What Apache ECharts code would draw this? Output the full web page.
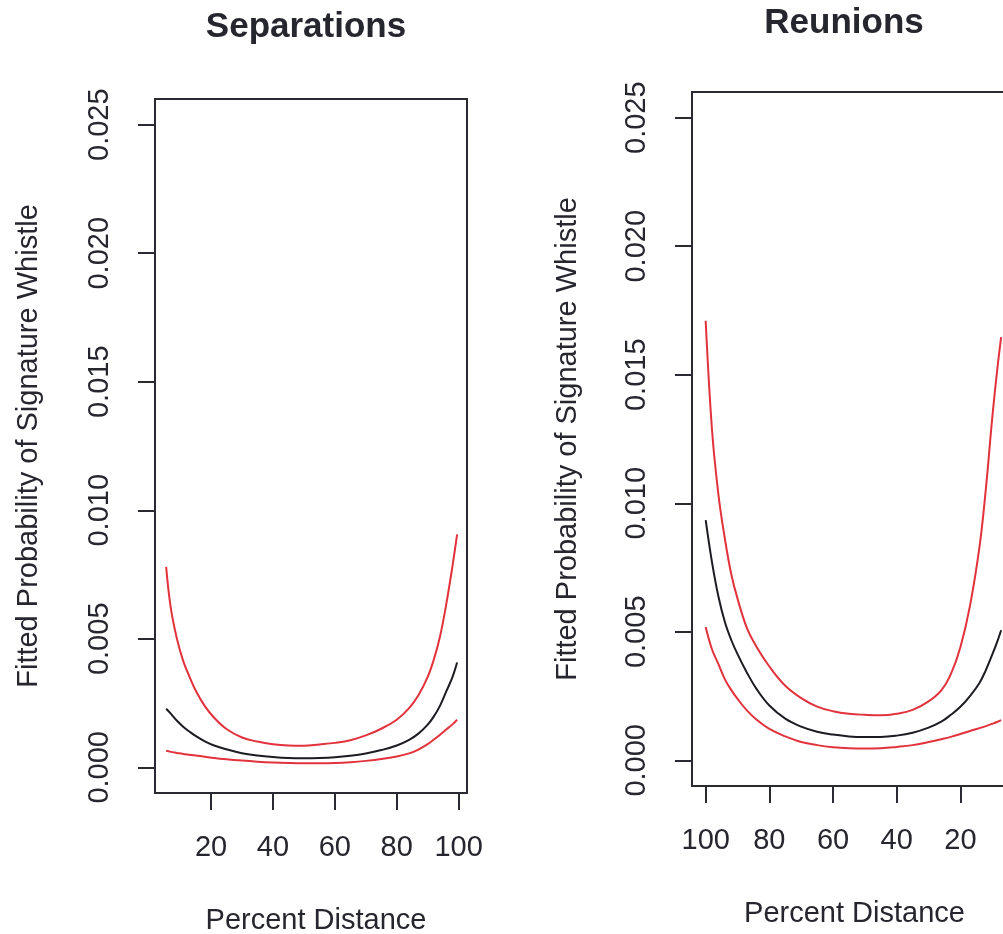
<!DOCTYPE html>
<html><head><meta charset="utf-8">
<script src="https://cdn.jsdelivr.net/npm/echarts@6/dist/echarts.min.js"></script>
<style>html,body{margin:0;padding:0;background:#fff}#c{width:1003px;height:934px}</style>
</head><body><div id="c"></div>
<script>
// ---- Separations panel (percent distance, fitted probability and red confidence bounds)
const sepX     = [5.5, 7, 9, 11, 13, 15, 18, 21, 25, 30, 35, 40, 45, 50, 55, 60, 65, 70, 75, 80, 84, 87, 90, 92, 94, 96, 98, 99.5];
const sepFit   = [0.00228, 0.00209, 0.00181, 0.00158, 0.00139, 0.00122, 0.00101, 0.00085, 0.00070, 0.00055, 0.00046, 0.00040, 0.00036, 0.00035, 0.00036, 0.00039, 0.00045, 0.00054, 0.00067, 0.00085, 0.00107, 0.00131, 0.00166, 0.00198, 0.00240, 0.00295, 0.00351, 0.00408];
const sepUpper = [0.0078, 0.0062, 0.00499, 0.00414, 0.00354, 0.00300, 0.00238, 0.00193, 0.00149, 0.00116, 0.00100, 0.00090, 0.00085, 0.00084, 0.00089, 0.00095, 0.00105, 0.00124, 0.00150, 0.00185, 0.00230, 0.00280, 0.00352, 0.00420, 0.00510, 0.00635, 0.00782, 0.00906];
const sepLower = [0.00064, 0.00060, 0.00056, 0.00052, 0.00049, 0.00046, 0.00041, 0.00036, 0.00031, 0.00026, 0.00022, 0.00019, 0.00017, 0.00016, 0.00016, 0.00017, 0.00020, 0.00025, 0.00032, 0.00042, 0.00054, 0.00069, 0.00090, 0.00108, 0.00127, 0.00147, 0.00167, 0.00185];

// ---- Reunions panel (x axis reversed)
const reuX     = [100, 98, 96, 94, 92, 90, 87, 84, 80, 75, 70, 65, 60, 55, 50, 45, 40, 35, 30, 26, 23, 20, 17, 14, 12, 10, 8.5, 7.2];
const reuFit   = [0.00934, 0.00769, 0.00637, 0.00539, 0.00469, 0.00413, 0.00340, 0.00277, 0.00213, 0.00162, 0.00131, 0.00111, 0.00100, 0.00093, 0.00091, 0.00091, 0.00096, 0.00107, 0.00127, 0.00150, 0.00177, 0.00208, 0.00250, 0.00301, 0.00351, 0.00411, 0.00459, 0.00506];
const reuUpper = [0.0171, 0.01283, 0.01034, 0.00864, 0.00726, 0.00629, 0.00513, 0.00441, 0.00365, 0.00290, 0.00242, 0.00209, 0.00191, 0.00181, 0.00177, 0.00175, 0.00181, 0.00196, 0.00229, 0.00272, 0.00335, 0.00440, 0.00600, 0.00830, 0.01056, 0.01331, 0.01511, 0.01646];
const reuLower = [0.00519, 0.00431, 0.00374, 0.00316, 0.00274, 0.00239, 0.00193, 0.00158, 0.00122, 0.00093, 0.00071, 0.00059, 0.00051, 0.00047, 0.00046, 0.00047, 0.00052, 0.00059, 0.00071, 0.00082, 0.00091, 0.00102, 0.00114, 0.00125, 0.00133, 0.00142, 0.00149, 0.00156];

// ---- tick labels
const yTicks     = [0, 0.005, 0.010, 0.015, 0.020, 0.025];
const sepXTicks  = [20, 40, 60, 80, 100];
const reuXTicks  = [100, 80, 60, 40, 20];

const titles = ['Separations', 'Reunions'];
const xName = 'Percent Distance';
const yName = 'Fitted Probability of Signature Whistle';

const FONT = "'Liberation Sans', Arial, Helvetica, sans-serif";
const TXT = '#26262e';
const AX = '#2a2a32';
const RED = '#e2323c';
const BLACK = '#1c1c22';

function pairs(xs, ys) { return xs.map((x, i) => [x, ys[i]]); }
const textStyle = { fontFamily: FONT, fontSize: 29, color: TXT };

function xAxisCfg(gi, min, max, ticks, inverse, padLeft) {
  return {
    gridIndex: gi, type: 'value', min: min, max: max, inverse: inverse,
    axisLine: { show: false, onZero: false },
    splitLine: { show: false },
    axisTick: { show: true, length: 17, lineStyle: { color: AX, width: 2 }, customValues: ticks },
    axisLabel: Object.assign({ show: true, margin: 40, customValues: ticks, formatter: v => String(Math.round(v)) }, textStyle),
    name: xName, nameLocation: 'middle', nameGap: 113,
    nameTextStyle: Object.assign({ padding: [0, 0, 0, padLeft] }, textStyle)
  };
}
function yAxisCfg(gi, gap) {
  return {
    gridIndex: gi, type: 'value', min: -0.001, max: 0.026,
    axisLine: { show: false, onZero: false },
    splitLine: { show: false },
    axisTick: { show: true, length: 17, lineStyle: { color: AX, width: 2 }, customValues: yTicks },
    axisLabel: Object.assign({ show: true, rotate: 90, margin: 41, customValues: yTicks, formatter: v => v.toFixed(3) }, textStyle),
    name: yName, nameLocation: 'middle', nameGap: gap, nameRotate: 90,
    nameTextStyle: textStyle
  };
}
function line(gi, xs, ys, color) {
  return {
    type: 'line', xAxisIndex: gi, yAxisIndex: gi, data: pairs(xs, ys),
    showSymbol: false, symbol: 'none', smooth: 0.4,
    lineStyle: { color: color, width: 2 }, silent: true
  };
}

const chart = echarts.init(document.getElementById('c'), null, { renderer: 'canvas' });
chart.setOption({
  animation: false,
  backgroundColor: '#ffffff',
  title: [
    { text: titles[0], left: 306, top: 10, textAlign: 'center', padding: 0,
      textStyle: { fontFamily: FONT, fontWeight: 'bold', fontSize: 35, color: TXT } },
    { text: titles[1], left: 844, top: 6, textAlign: 'center', padding: 0,
      textStyle: { fontFamily: FONT, fontWeight: 'bold', fontSize: 35, color: TXT } }
  ],
  grid: [
    { left: 155, top: 99, width: 312, height: 694, show: true, borderColor: AX, borderWidth: 2,
      containLabel: false, outerBoundsMode: 'none' },
    { left: 692, top: 92, width: 312, height: 694, show: true, borderColor: AX, borderWidth: 2,
      containLabel: false, outerBoundsMode: 'none' }
  ],
  xAxis: [
    xAxisCfg(0, 1.9, 102.7, sepXTicks, false, 10),
    xAxisCfg(1, 6.3, 104.3, reuXTicks, true, 13)
  ],
  yAxis: [ yAxisCfg(0, 112), yAxisCfg(1, 110) ],
  series: [
    line(0, sepX, sepUpper, RED),
    line(0, sepX, sepFit, BLACK),
    line(0, sepX, sepLower, RED),
    line(1, reuX, reuUpper, RED),
    line(1, reuX, reuFit, BLACK),
    line(1, reuX, reuLower, RED)
  ]
});
</script>
</body></html>
